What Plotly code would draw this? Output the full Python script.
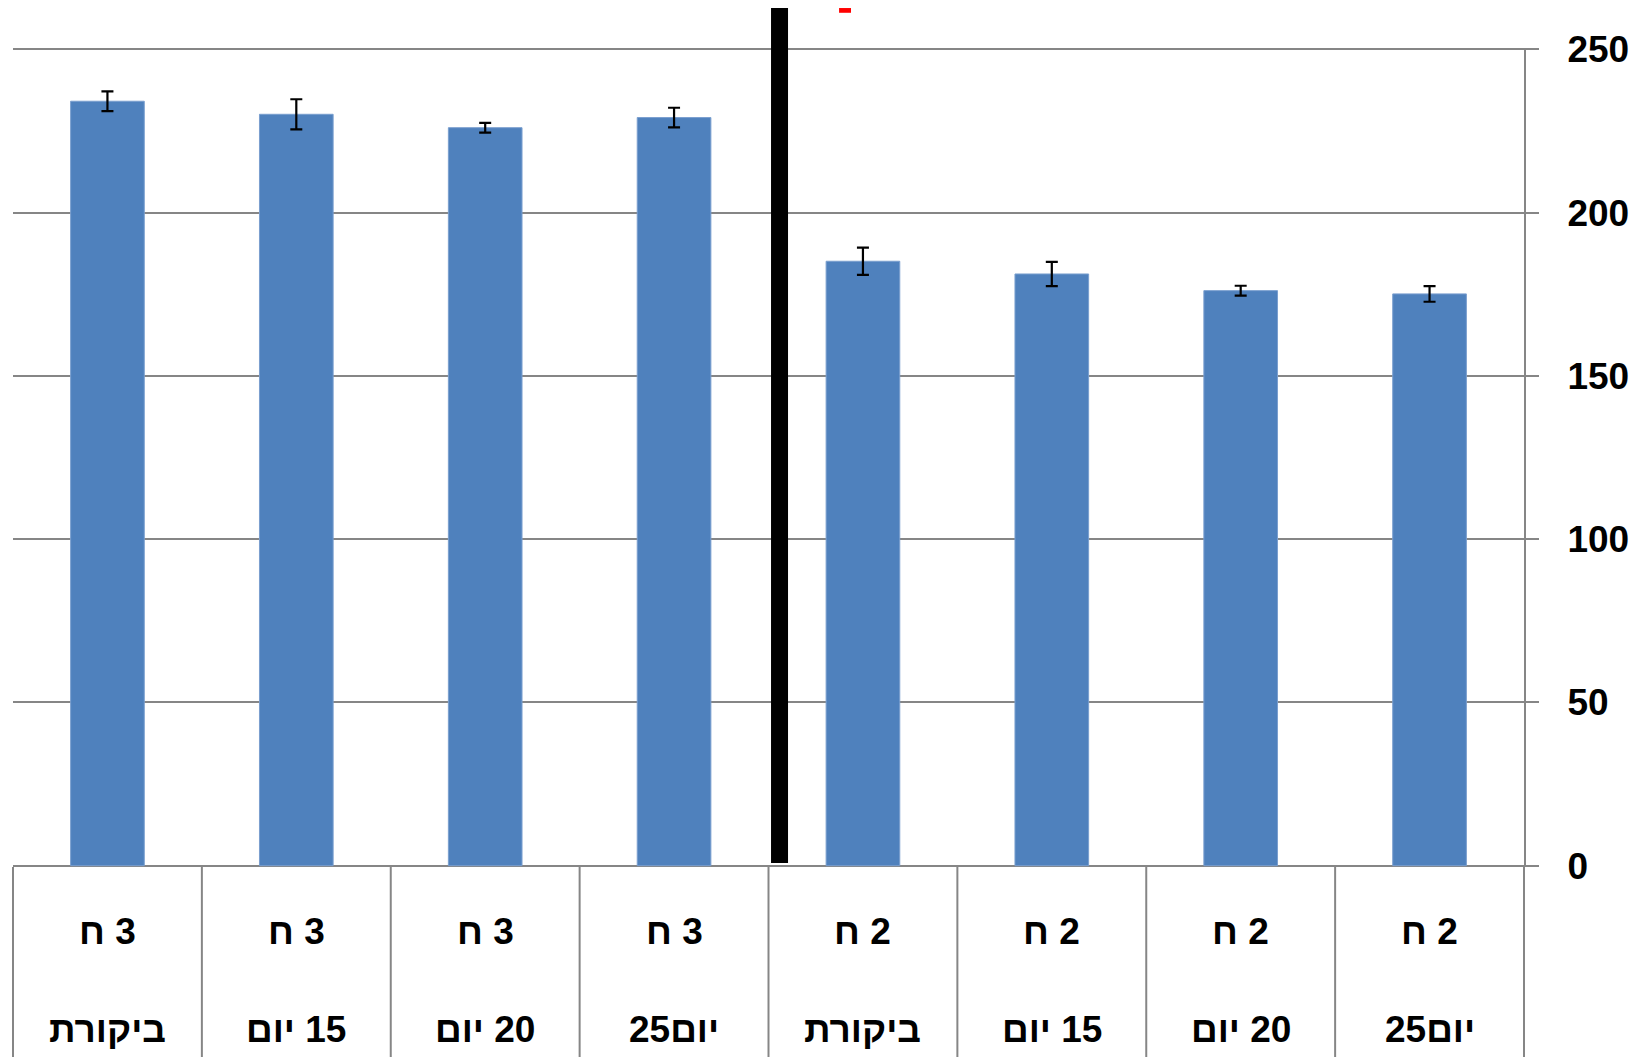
import plotly.graph_objects as go

# ---- data ----
group_labels = ["3 ח", "3 ח", "3 ח", "3 ח", "2 ח", "2 ח", "2 ח", "2 ח"]
day_labels = ["ביקורת", "15 יום", "20 יום", "יום25", "ביקורת", "15 יום", "20 יום", "יום25"]
values = [234.1, 230.1, 226.0, 229.1, 185.1, 181.2, 176.1, 175.1]
errors = [3.0, 4.6, 1.5, 3.0, 4.2, 3.7, 1.5, 2.4]
y_ticks = [0, 50, 100, 150, 200, 250]

categories = [f"{g} | {d} | {i}" for i, (g, d) in enumerate(zip(group_labels, day_labels))]

RLE, PDF = "\u202b", "\u202c"
GRID = "#868686"
LABEL_FONT = dict(family="Liberation Sans, Arial, sans-serif", size=37, color="black", weight="bold")

fig = go.Figure()
fig.add_trace(go.Bar(
    x=categories,
    y=values,
    marker=dict(color="#4F81BD", line=dict(color="#7a9fcf", width=1)),
    error_y=dict(type="data", array=errors, visible=True, color="black", thickness=2.2, width=6),
    showlegend=False,
))

n = len(categories)
annotations = []
for cat, g, d in zip(categories, group_labels, day_labels):
    annotations.append(dict(x=cat, xref="x", y=-0.079, yref="paper", text=RLE + g + PDF,
                            showarrow=False, font=LABEL_FONT, xanchor="center", yanchor="middle"))
    annotations.append(dict(x=cat, xref="x", y=-0.1985, yref="paper", text=RLE + d + PDF,
                            showarrow=False, font=LABEL_FONT, xanchor="center", yanchor="middle"))

shapes = []
# category dividers below the axis
for k in range(n + 1):
    shapes.append(dict(type="line", xref="x domain", yref="paper", x0=k / n, x1=k / n,
                       y0=0, y1=-0.25, line=dict(color=GRID, width=2), layer="below"))
# thick black separator
shapes.append(dict(type="line", xref="x domain", yref="paper", x0=0.5073, x1=0.5073,
                   y0=0.0049, y1=1.0488, line=dict(color="black", width=17), layer="above"))
# small red mark at top
shapes.append(dict(type="rect", xref="x domain", yref="paper", x0=0.5467, x1=0.5546,
                   y0=1.0430, y1=1.0488, fillcolor="red", line=dict(width=0), layer="above"))

fig.update_layout(
    width=1633, height=1049,
    margin=dict(l=5, r=117, t=40, b=190),
    paper_bgcolor="white", plot_bgcolor="white",
    bargap=0.61,
    xaxis=dict(range=[-0.5, n - 0.5], showticklabels=False, showgrid=False, zeroline=False,
               ticks="", showline=False, fixedrange=True),
    yaxis=dict(side="right", range=[-0.4, 250.4], tickvals=y_ticks, ticks="outside", ticklen=13,
               tickcolor=GRID, tickwidth=2, showgrid=True, gridcolor=GRID, gridwidth=2,
               zeroline=False, showline=True, linecolor=GRID, linewidth=2,
               ticklabelstandoff=21,
               tickfont=dict(family="Liberation Sans, Arial, sans-serif", size=37, color="black",
                             weight="bold")),
    annotations=annotations,
    shapes=shapes,
)

fig.write_html("out.html")
